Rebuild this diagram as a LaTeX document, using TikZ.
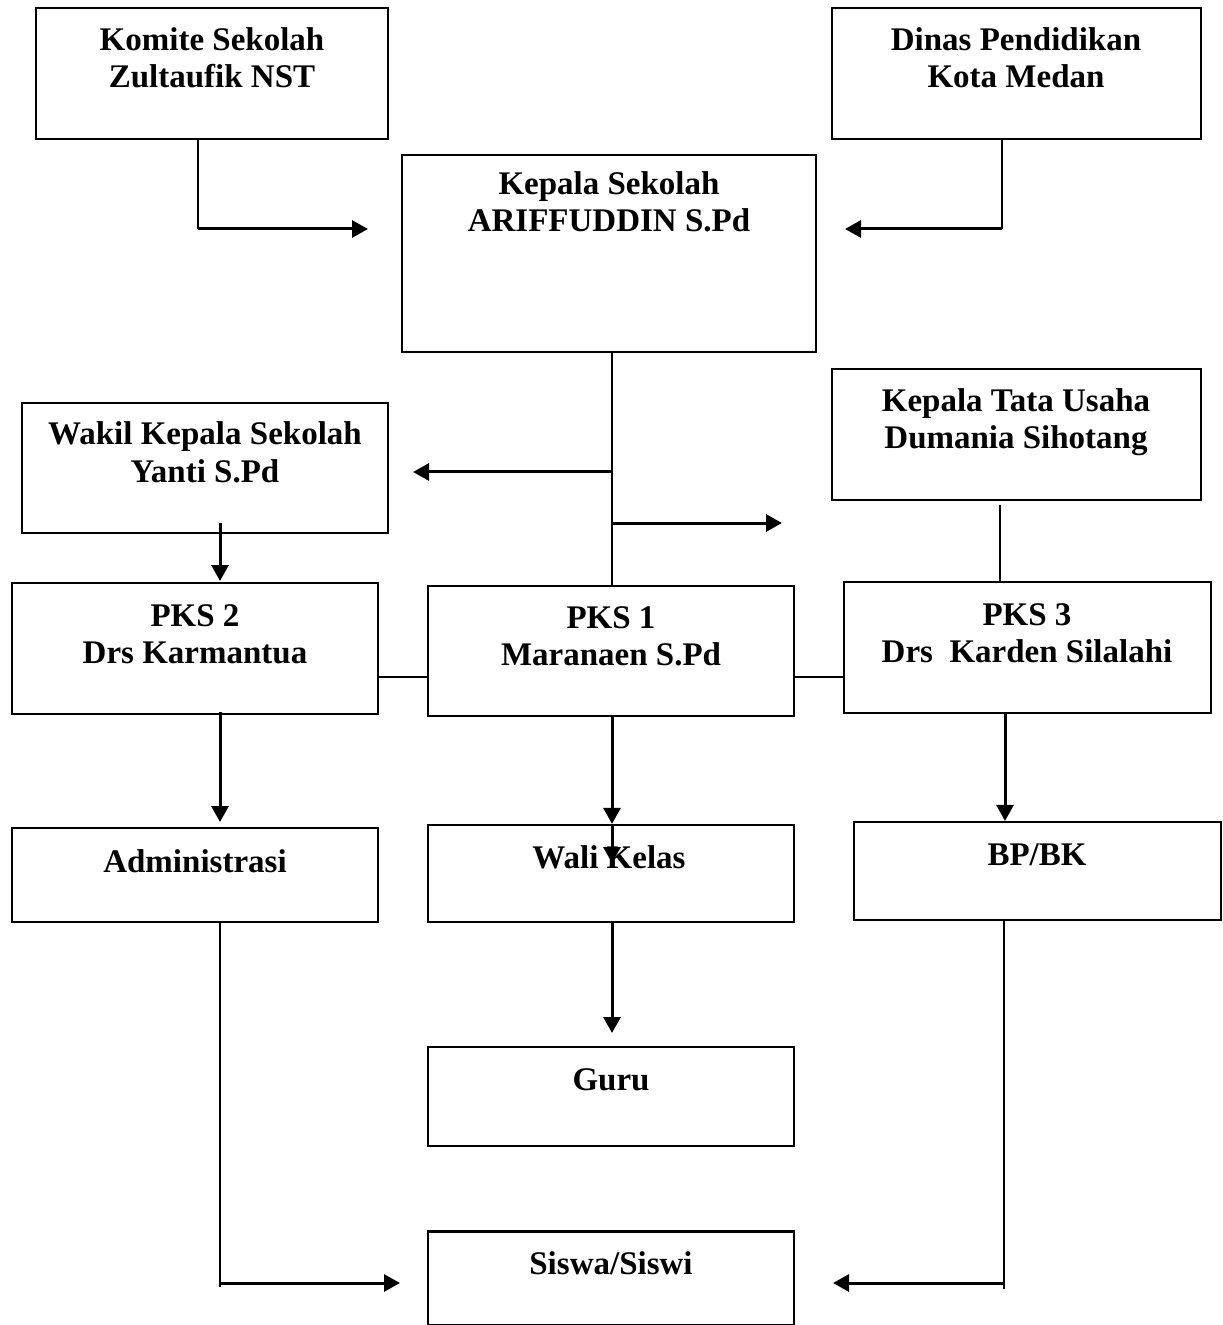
\documentclass[tikz,border=0pt]{standalone}
\usepackage{fontspec}
\setmainfont{Liberation Serif}
\usetikzlibrary{arrows.meta}
\begin{document}
\begin{tikzpicture}[x=0.5pt,y=-0.5pt,
  box/.style={draw=black,line width=1.1pt,minimum width=#1,inner sep=0pt},
  lbl/.style={anchor=base,align=center,inner sep=0pt,font=\fontsize{16.5}{18.5}\selectfont\bfseries},
  arr/.style={line width=1.5pt,-{Triangle[length=8pt,width=8.5pt]}},
  ln/.style={line width=1.1pt},
  every node/.style={inner sep=0pt}]
\useasboundingbox (0,0) rectangle (1222,1325);
% boxes
\node[box=176pt,minimum height=65.5pt] (komite) at (212,73.5) {};
\node[box=184.5pt,minimum height=65.5pt] (dinas) at (1016.5,73.5) {};
\node[box=207pt,minimum height=98.5pt] (kepala) at (609,253.5) {};
\node[box=184.5pt,minimum height=65.5pt] (ktu) at (1016.5,434.5) {};
\node[box=183pt,minimum height=65pt] (wakil) at (205,468) {};
\node[box=183pt,minimum height=65.5pt] (pks2) at (195,648.5) {};
\node[box=183pt,minimum height=65pt] (pks1) at (611,651) {};
\node[box=183.5pt,minimum height=65.5pt] (pks3) at (1027.5,647.5) {};
\node[box=183pt,minimum height=47pt] (admin) at (195,875) {};
\node[box=183pt,minimum height=48.5pt] (wali) at (611,873.5) {};
\node[box=183.5pt,minimum height=49pt] (bpbk) at (1037.5,871) {};
\node[box=183pt,minimum height=49.5pt] (guru) at (611,1096.5) {};
\node[box=183pt,minimum height=47pt] (siswa) at (611,1278.5) {};
% texts (anchor base = baseline of the last line)
\node[lbl] (komite-t) at (212,88) {Komite Sekolah\\Zultaufik NST};
\node[lbl] (dinas-t) at (1016,88) {Dinas Pendidikan\\Kota Medan};
\node[lbl] (kepala-t) at (609,232) {Kepala Sekolah\\ARIFFUDDIN S.Pd};
\node[lbl] (ktu-t) at (1016,449) {Kepala Tata Usaha\\Dumania Sihotang};
\node[lbl] (wakil-t) at (205,482) {Wakil Kepala Sekolah\\Yanti S.Pd};
\node[lbl] (pks2-t) at (195,663) {PKS 2\\Drs Karmantua};
\node[lbl] (pks1-t) at (611,665) {PKS 1\\Maranaen S.Pd};
\node[lbl] (pks3-t) at (1027,662) {PKS 3\\Drs\ \ Karden Silalahi};
\node[lbl] (admin-t) at (195,872) {Administrasi};
\node[lbl] (wali-t) at (609,868) {Wali Kelas};
\node[lbl] (bpbk-t) at (1037,865) {BP/BK};
\node[lbl] (guru-t) at (611,1090) {Guru};
\node[lbl] (siswa-t) at (611,1274) {Siswa/Siswi};
% helper coordinates
\coordinate (k1) at (198,229);
\coordinate (k2) at (368,229);
\coordinate (d1) at (1002,229);
\coordinate (d2) at (845,229);
\coordinate (m) at (612,0);
\coordinate (bl) at (612,472);
\coordinate (blE) at (413,472);
\coordinate (br) at (612,523);
\coordinate (brE) at (782,523);
\coordinate (t1) at (1000,505);
\coordinate (w1) at (220,523);
\coordinate (w2) at (220,581);
\coordinate (p2a) at (220,712);
\coordinate (p2b) at (220,822);
\coordinate (p3a) at (1005,713);
\coordinate (wk) at (612,863);
\coordinate (g1) at (612,1033);
\coordinate (a1) at (220,1287);
\coordinate (a2) at (220,1283);
\coordinate (a3) at (400,1283);
\coordinate (b1) at (1004,1289);
\coordinate (b2) at (1004,1283);
\coordinate (b3) at (833,1283);
% connectors
\draw[ln] (komite.south -| k1) -- (k1);
\draw[arr] (k1) -- (k2);
\draw[ln] (dinas.south -| d1) -- (d1);
\draw[arr] (d1) -- (d2);
\draw[ln] (kepala.south -| m) -- (pks1.north -| m);
\draw[arr] (bl) -- (blE);
\draw[arr] (br) -- (brE);
\draw[ln] (t1) -- (pks3.north -| t1);
\draw[arr] (w1) -- (w2);
\draw[ln] (pks2.east |- 0,677) -- (pks1.west |- 0,677);
\draw[ln] (pks1.east |- 0,677) -- (pks3.west |- 0,677);
\draw[arr] (p2a) -- (p2b);
\draw[arr] (pks1.south -| m) -- (wali.north -| m);
\draw[arr] (wali.north -| m) -- (wk);
\draw[arr] (p3a) -- (bpbk.north -| p3a);
\draw[arr] (wali.south -| m) -- (g1);
\draw[ln] (admin.south -| a1) -- (a1);
\draw[arr] (a2) -- (a3);
\draw[ln] (bpbk.south -| b1) -- (b1);
\draw[arr] (b2) -- (b3);
\end{tikzpicture}
\end{document}
